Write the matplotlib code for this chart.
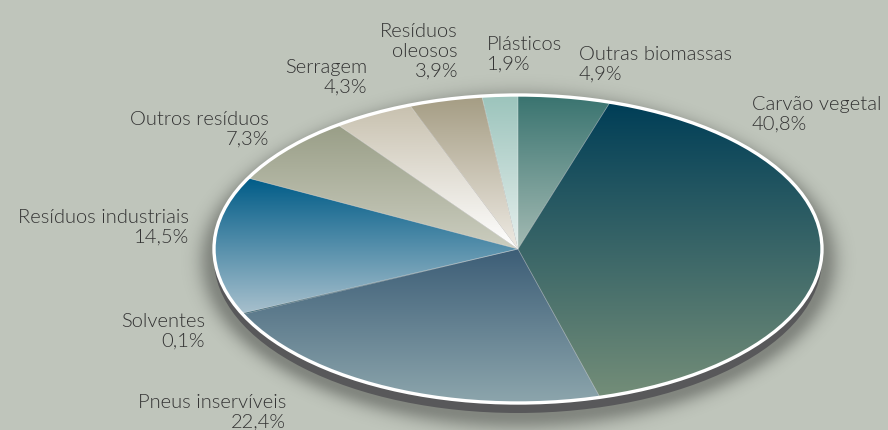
import matplotlib
matplotlib.use("Agg")
import matplotlib.pyplot as plt
import numpy as np
from matplotlib.colors import to_rgb
from matplotlib.patches import Ellipse

# fatias no sentido horário a partir do topo
labels = ["Outras biomassas", "Carvão vegetal", "Pneus inservíveis", "Solventes",
          "Resíduos industriais", "Outros resíduos", "Serragem",
          "Resíduos\noleosos", "Plásticos"]
values = [4.9, 40.8, 22.4, 0.1, 14.5, 7.3, 4.3, 3.9, 1.9]

# cor do topo e da base de cada fatia (degradê vertical)
top_colors = ["#3a7470", "#003e57", "#3d5e77", "#003d4f", "#005c88",
              "#999e87", "#c8c1af", "#a59d84", "#9cc4bc"]
bottom_colors = ["#a3bab3", "#738d78", "#8ca5ac", "#003d4f", "#a6bfcc",
                 "#cbcdbf", "#ffffff", "#eeeae3", "#e6efed"]

# posição dos rótulos em pixels (x, linha de base da última linha, alinhamento)
label_pos = [(579, 80, "left"), (752, 130, "left"), (286, 428, "right"),
             (205, 347, "right"), (189, 243, "right"), (269, 145, "right"),
             (367, 93, "right"), (458, 77, "right"), (487, 70, "left")]

W, H = 888, 430
bg = "#bfc5bb"
cx, cy, a, b = 518, 249, 304, 154

fig = plt.figure(figsize=(W / 100, H / 100), dpi=100, facecolor=bg)
ax = fig.add_axes([0, 0, 1, 1])
ax.set_xlim(0, W)
ax.set_ylim(H, 0)
ax.axis("off")

# sombra difusa em volta da pizza
yy, xx = np.mgrid[0:H, 0:W] + 0.5
sx, sy = cx, cy + 12
dx, dy = xx - sx, yy - sy
r = np.sqrt((dx / a) ** 2 + (dy / b) ** 2)
dist = np.sqrt(dx ** 2 + dy ** 2)
d = np.where(r > 1, dist * (1 - 1 / np.maximum(r, 1e-6)), 0)
alpha = 0.32 * np.exp(-(d / 16) ** 2)
halo = np.zeros((H, W, 4))
halo[..., 3] = alpha
ax.imshow(halo, extent=(0, W, H, 0), aspect="auto", zorder=1)
ax.set_xlim(0, W)
ax.set_ylim(H, 0)

# eixo da pizza esticado para formar a elipse
pax = fig.add_axes([(cx - a) / W, (H - cy - b) / H, 2 * a / W, 2 * b / H])
pax.patch.set_alpha(0)
wedges, _ = pax.pie(values, startangle=90, counterclock=False, radius=1,
                    wedgeprops=dict(linewidth=0))
pax.set_aspect("auto")

# sombra escura deslocada para baixo
pax.add_patch(Ellipse((0, -10 / b), 2.0, 2.0, facecolor="#58585a",
                      edgecolor="none", zorder=0, clip_on=False))

n = 64
for w, ctop, cbot in zip(wedges, top_colors, bottom_colors):
    w.set_facecolor("none")
    w.set_zorder(3)
    ext = w.get_path().get_extents()
    t = np.linspace(0, 1, n)[:, None]
    grad = (1 - t) * np.array(to_rgb(ctop)) + t * np.array(to_rgb(cbot))
    img = pax.imshow(grad[:, None, :], extent=(ext.x0, ext.x1, ext.y0, ext.y1),
                     origin="upper", aspect="auto", interpolation="bilinear",
                     zorder=2)
    img.set_clip_path(w)

# linhas finas entre as fatias
for w in wedges:
    w.set_edgecolor((1, 1, 1, 0.25))
    w.set_linewidth(0.5)

# aro branco
pax.add_patch(Ellipse((0, 0), 2.0, 2.0, facecolor="none", edgecolor="white",
                      linewidth=2.4, zorder=4, clip_on=False))
pax.set_xlim(-1, 1)
pax.set_ylim(-1, 1)
pax.axis("off")

# rótulos
for lab, v, (x, y, ha) in zip(labels, values, label_pos):
    txt = f"{lab}\n{v:.1f}%".replace(".", ",")
    ax.text(x, y, txt, ha=ha, va="baseline", multialignment=ha,
            fontsize=14.5, family="Lato", fontweight=300,
            color="#333333", linespacing=1.22, zorder=5)

fig.savefig("out.png", dpi=100, facecolor=bg)
